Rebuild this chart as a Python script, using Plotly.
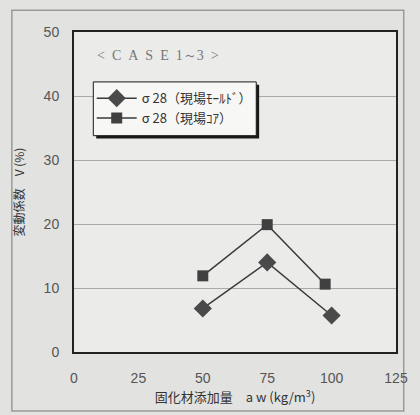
import plotly.graph_objects as go

# 固化材添加量 aw (kg/m3) と 変動係数 V (%)
aw_mold = [50, 75, 100]
v_mold = [6.8, 14.0, 5.7]
aw_core = [50, 75, 97.5]
v_core = [11.9, 19.9, 10.6]

x_ticks = [0, 25, 50, 75, 100, 125]
y_ticks = [0, 10, 20, 30, 40, 50]

names = ["σ 28（現場ﾓｰﾙﾄﾞ）", "σ 28（現場ｺｱ）"]

jp_font = "Noto Sans CJK JP"
num_font = "Liberation Sans"
line_col = "#3a3a3a"

# caption with widened letter spacing (en spaces), range part kept tight
case_label = "\u2002".join(["&lt;", "C", "A", "S", "E", "1～3", "&gt;"])

fig = go.Figure()
fig.add_trace(go.Scatter(
    x=aw_mold, y=v_mold, mode="lines+markers", name=names[0],
    line=dict(color=line_col, width=1.5),
    marker=dict(symbol="diamond", size=14, color="#4a4a4a"),
))
fig.add_trace(go.Scatter(
    x=aw_core, y=v_core, mode="lines+markers", name=names[1],
    line=dict(color=line_col, width=1.5),
    marker=dict(symbol="square", size=11, color="#404040"),
))

fig.update_layout(
    width=420, height=415,
    margin=dict(l=74, r=14, t=32, b=62),
    paper_bgcolor="#e2e2e0",
    plot_bgcolor="#ebebea",
    font=dict(family=num_font, size=12, color="#3c3c3c"),
    showlegend=True,
    legend=dict(
        x=0.055, y=0.84, xanchor="left", yanchor="top",
        bgcolor="rgba(0,0,0,0)", borderwidth=0,
        font=dict(family=jp_font, size=13, color="#333333"),
        tracegroupgap=0, itemwidth=40,
    ),
    xaxis=dict(
        range=[0, 125], tickvals=x_ticks, ticks="", showgrid=False,
        zeroline=False, showline=True, linecolor="#222222", linewidth=2,
        mirror=True, ticklabelstandoff=12,
        tickfont=dict(family=num_font, size=14, color="#555555"),
        title=dict(text="固化材添加量　a w (kg/m<sup>3</sup>)",
                   font=dict(family=jp_font, size=13, color="#333333"),
                   standoff=8),
    ),
    yaxis=dict(
        range=[0, 50], tickvals=y_ticks, ticks="", showgrid=True,
        gridcolor="#a9a9a9", gridwidth=1, zeroline=False,
        showline=True, linecolor="#222222", linewidth=2, mirror=True,
        ticklabelstandoff=10,
        tickfont=dict(family=num_font, size=14, color="#555555"),
        title=dict(text="変動係数　V (%)",
                   font=dict(family=jp_font, size=12, color="#333333"),
                   standoff=16),
    ),
    shapes=[
        # outer frame of the chart
        dict(type="rect", xref="paper", yref="paper",
             x0=-0.193, x1=1.024, y0=-0.184, y1=1.068,
             line=dict(color="#9a9a9a", width=1.5), layer="below"),
        # legend box with drop shadow
        dict(type="rect", xref="paper", yref="paper",
             x0=0.069, x1=0.575, y0=0.667, y1=0.835,
             line=dict(width=0), fillcolor="#1a1a1a", layer="above"),
        dict(type="rect", xref="paper", yref="paper",
             x0=0.060, x1=0.566, y0=0.676, y1=0.844,
             line=dict(color="#1a1a1a", width=1), fillcolor="#f7f7f6",
             layer="above"),
    ],
    annotations=[
        dict(text=case_label, xref="paper", yref="paper",
             x=0.065, y=0.925, xanchor="left", yanchor="middle",
             showarrow=False,
             font=dict(family="Liberation Serif", size=14, color="#777777")),
    ],
)

fig.write_html("out.html")
